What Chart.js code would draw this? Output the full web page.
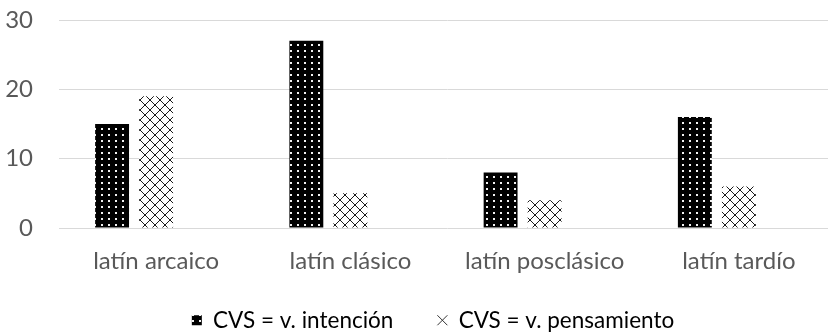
<!DOCTYPE html>
<html>
<head>
<meta charset="utf-8">
<script src="https://cdn.jsdelivr.net/npm/chart.js@4.4.1/dist/chart.umd.min.js"></script>
<style>
  html, body { margin: 0; padding: 0; background: #ffffff; overflow: hidden; }
  #wrap { width: 836px; height: 334px; position: relative; }
</style>
</head>
<body>
<div id="wrap"><canvas id="chart"></canvas></div>
<script>
// Periods of Latin and counts per construction type
const categories = ['latín arcaico', 'latín clásico', 'latín posclásico', 'latín tardío'];
const seriesNames = ['CVS = v. intención', 'CVS = v. pensamiento'];
const intencion = [15, 27, 8, 16];
const pensamiento = [19, 5, 4, 6];
const emptySlot = [null, null, null, null];
const yTicks = [0, 10, 20, 30];

// Black fill with a regular grid of white dots
function dotPattern() {
  const c = document.createElement('canvas');
  c.width = 7; c.height = 6;
  const g = c.getContext('2d');
  g.fillStyle = '#000000';
  g.fillRect(0, 0, 7, 6);
  g.fillStyle = '#f2f2f2';
  g.fillRect(3, 2, 2, 2);
  return g.createPattern(c, 'repeat');
}

// Thin diagonal cross-hatching on white
function crossPattern() {
  const n = 10;
  const c = document.createElement('canvas');
  c.width = n; c.height = n;
  const g = c.getContext('2d');
  g.fillStyle = '#ffffff';
  g.fillRect(0, 0, n, n);
  g.fillStyle = '#1a1a1a';
  for (let i = 0; i < n; i++) {
    g.fillRect(i, i, 1, 1);
    g.fillRect(n - 1 - i, i, 1, 1);
  }
  return g.createPattern(c, 'repeat');
}

const TICK_FONT = { family: 'Lato', size: 24 };
const LEGEND_FONT = { family: 'Lato', size: 22.5 };
const TEXT = '#595959';
const GRID = '#d9d9d9';

// Nudges the legend box after layout so it sits under the plot
const legendShift = {
  id: 'legendShift',
  afterLayout(chart) {
    const l = chart.legend;
    if (!l) return;
    l.left += 15; l.right += 15;
    l.top -= 13;
    l.bottom = chart.height;
    l.height = l.bottom - l.top;
  }
};

const ctx = document.getElementById('chart').getContext('2d');
new Chart(ctx, {
  type: 'bar',
  data: {
    labels: categories,
    datasets: [
      { label: seriesNames[0], data: intencion, backgroundColor: dotPattern(), borderWidth: 0, pointStyle: 'rect' },
      { label: seriesNames[1], data: pensamiento, backgroundColor: crossPattern(), borderWidth: 0,
        pointStyle: 'crossRot', borderColor: '#333333' },
      { label: '', data: emptySlot, backgroundColor: 'rgba(0,0,0,0)', borderWidth: 0 }
    ]
  },
  plugins: [legendShift],
  options: {
    responsive: true,
    maintainAspectRatio: false,
    animation: false,
    categoryPercentage: 0.68,
    barPercentage: 0.77,
    layout: { padding: { top: 20, right: 0, bottom: 0, left: 0 } },
    plugins: {
      tooltip: { enabled: false },
      legend: {
        position: 'bottom',
        maxHeight: 56,
        labels: {
          font: LEGEND_FONT,
          color: TEXT,
          usePointStyle: true,
          boxWidth: 10,
          boxHeight: 10,
          padding: 44,
          filter: (item) => item.datasetIndex < 2,
          generateLabels: (chart) => chart.data.datasets.map((ds, i) => ({
            text: ds.label,
            fillStyle: ds.backgroundColor,
            strokeStyle: i === 1 ? '#333333' : '#000000',
            lineWidth: i === 1 ? 1 : 0,
            pointStyle: ds.pointStyle,
            datasetIndex: i,
            hidden: false
          }))
        }
      }
    },
    scales: {
      x: {
        grid: { display: false },
        border: { display: false },
        ticks: { font: TICK_FONT, color: TEXT, padding: 11, maxRotation: 0 },
        afterFit: (s) => { s.height = 50; }
      },
      y: {
        min: 0,
        max: 30,
        afterBuildTicks: (s) => { s.ticks = yTicks.map(v => ({ value: v })); },
        grid: { color: GRID, lineWidth: 1, drawTicks: true, tickLength: 26, tickColor: 'rgba(0,0,0,0)' },
        border: { display: false },
        ticks: { font: TICK_FONT, color: TEXT, padding: 0 },
        afterFit: (s) => { s.width = 59; }
      }
    }
  }
});
</script>
</body>
</html>
